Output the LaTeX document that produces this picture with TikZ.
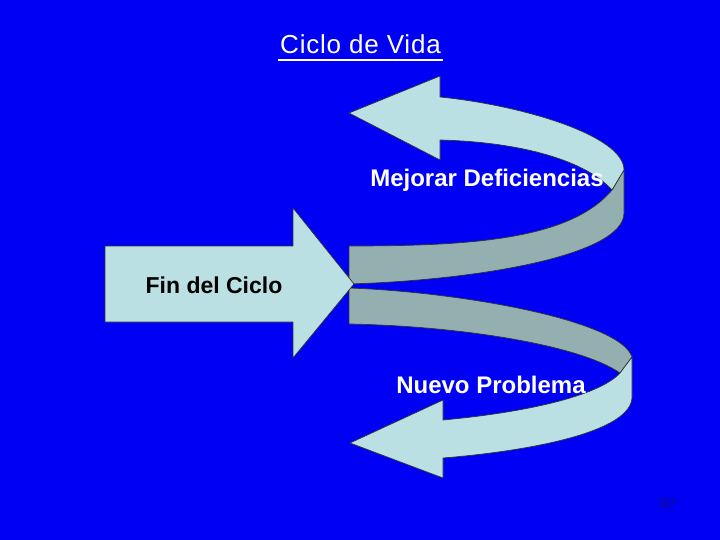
\documentclass[tikz,border=0pt]{standalone}
\usepackage{fontspec}
\setmainfont{Liberation Sans}
\definecolor{bgblue}{RGB}{0,0,245}
\definecolor{lightfill}{RGB}{187,224,228}
\definecolor{darkfill}{RGB}{147,175,176}
\definecolor{pagenum}{RGB}{15,15,125}
\tikzset{
  ribbonlight/.style={fill=lightfill, draw=black!80, line width=0.7pt, line join=round},
  ribbondark/.style={fill=darkfill, draw=black!80, line width=0.7pt, line join=round},
  labelwhite/.style={text=white, font=\fontsize{24}{28}\selectfont\bfseries, inner sep=0pt, anchor=base},
  labelblack/.style={text=black, font=\fontsize{23}{27}\selectfont\bfseries, inner sep=0pt, anchor=base}
}
\begin{document}
\begin{tikzpicture}[x=1pt,y=-1pt]
\fill[bgblue] (0,0) rectangle (720,540);
\useasboundingbox (0,0) rectangle (720,540);

% title
\node[text=white, font=\fontsize{26}{30}\selectfont\addfontfeature{LetterSpace=3}, inner sep=0pt, anchor=base] (title) at (360.5,54) {Ciclo de Vida};
\draw[white, line width=1.6pt] (278,60) -- (443,60);

% upper ribbon: dark back face
\draw[ribbondark] (612,190) .. controls (570,240) and (470,246) .. (349,246)
  -- (349,284) .. controls (480,280) and (624,255) .. (624,213)
  -- (624,170) -- cycle;
% upper ribbon: light front face with head
\draw[ribbonlight] (349,113) -- (440,76) -- (440,97)
  .. controls (520,105) and (624,135) .. (624,170)
  -- (612,190) .. controls (585,160) and (520,142) .. (440,140)
  -- (440,160) -- cycle;

% lower ribbon: dark back face
\draw[ribbondark] (349,288) .. controls (460,292) and (620,320) .. (632,357)
  -- (620,373) .. controls (580,345) and (460,326) .. (349,324) -- cycle;
% lower ribbon: light front face with head
\draw[ribbonlight] (350,443) -- (443,400) -- (443,420)
  .. controls (530,412) and (600,395) .. (620,373)
  -- (632,357) -- (632,397)
  .. controls (632,430) and (540,450) .. (443,458)
  -- (443,478) -- cycle;

% Fin del Ciclo arrow
\draw[ribbonlight] (105,246) -- (293,246) -- (293,208) -- (354,284) -- (293,358) -- (293,322) -- (105,322) -- cycle;

\node[labelwhite] (mejorar) at (487,187) {Mejorar Deficiencias};
\node[labelwhite] (nuevo) at (491,393) {Nuevo Problema};
\node[labelblack] (fin) at (214,293) {Fin del Ciclo};
\node[text=pagenum, font=\fontsize{14}{16}\selectfont, inner sep=0pt, anchor=base] (num) at (668,508) {97};
\end{tikzpicture}
\end{document}
